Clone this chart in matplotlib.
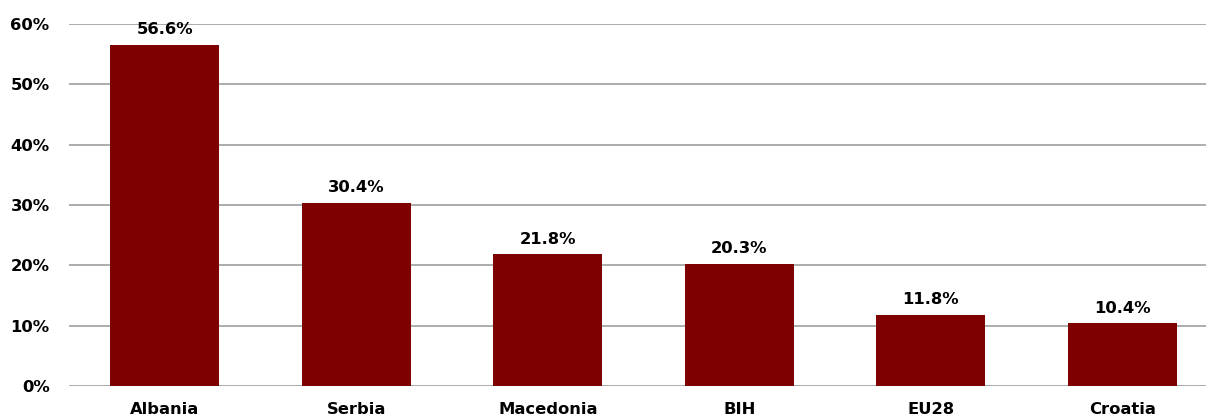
import matplotlib.pyplot as plt
from matplotlib.ticker import FuncFormatter

countries = ['Albania', 'Serbia', 'Macedonia', 'BIH', 'EU28', 'Croatia']
shares = [56.6, 30.4, 21.8, 20.3, 11.8, 10.4]
yticks = [0, 10, 20, 30, 40, 50, 60]

plt.rcParams['font.family'] = ['DejaVu Sans']
plt.rcParams['font.weight'] = 'bold'

fig = plt.figure(figsize=(12.06, 4.19), dpi=100)
ax = fig.add_axes([69 / 1206, 1 - 386 / 419, 1 - 69 / 1206, (386 - 24) / 419])

x = range(len(countries))
bars = ax.bar(x, shares, width=0.57, color='#7f0000', zorder=3)

for b, v in zip(bars, shares):
    ax.annotate(f'{v:.1f}%', (b.get_x() + b.get_width() / 2, v),
                xytext=(0, 5.5), textcoords='offset points',
                ha='center', va='bottom', fontsize=11.8, fontweight='bold',
                zorder=4)

ax.set_ylim(0, 60)
ax.set_xlim(-0.5, 5.5 - 12 / 191.4)
ax.set_yticks(yticks)
ax.yaxis.set_major_formatter(FuncFormatter(lambda v, p: f'{v:.0f}%'))
ax.set_xticks(list(x))
ax.set_xticklabels(countries)
ax.tick_params(axis='both', length=0, labelsize=11.8)
ax.tick_params(axis='y', pad=14)
ax.tick_params(axis='x', pad=11.5)
for t in ax.get_xticklabels() + ax.get_yticklabels():
    t.set_fontweight('bold')

ax.grid(axis='y', color='#a6a6a6', linewidth=1.3, zorder=0)
ax.set_axisbelow(True)
for s in ax.spines.values():
    s.set_visible(False)

fig.savefig('out.png', dpi=100)
